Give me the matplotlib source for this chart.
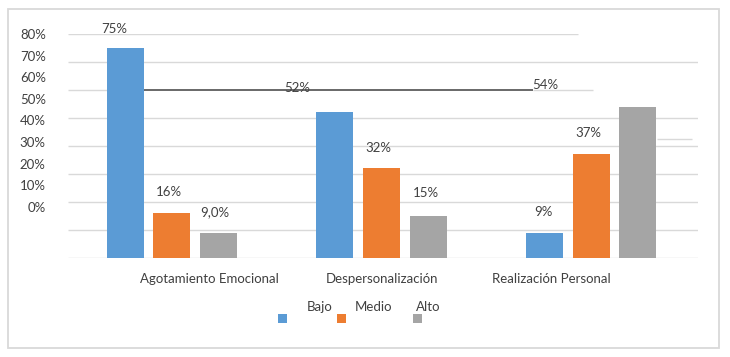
import matplotlib
matplotlib.use("Agg")
import matplotlib.pyplot as plt
from matplotlib.patches import Rectangle
import numpy as np

# ---- data ----
categories = ["Agotamiento Emocional", "Despersonalización", "Realización Personal"]
series = ["Bajo", "Medio", "Alto"]
bajo = [75, 52, 9]
medio = [16, 32, 37]
alto = [9, 15, 54]
value_labels = [["75%", "52%", "9%"], ["16%", "32%", "37%"], ["9,0%", "15%", "54%"]]
ytick_labels = ["80%", "70%", "60%", "50%", "40%", "30%", "20%", "10%", "0%"]

# ---- layout / style ----
colors = ["#5B9BD5", "#ED7D31", "#A5A5A5"]
text_color = "#404040"
grid_color = "#D9D9D9"
font = ["Lato", "DejaVu Sans"]
plt.rcParams["font.family"] = font

W, H = 730, 357
fig = plt.figure(figsize=(W / 100, H / 100), dpi=100)
ax_l, ax_r, ax_t, ax_b = 68, 698, 34, 258
ax = fig.add_axes([ax_l / W, (H - ax_b) / H, (ax_r - ax_l) / W, (ax_b - ax_t) / H])
ax.set_ylim(0, 80)
ax.set_xlim(-0.4964, 2.5107)
for s in ax.spines.values():
    s.set_visible(False)
ax.set_xticks([])
ax.tick_params(axis="y", length=0, pad=16, labelsize=9.5, labelcolor=text_color)
# misplaced value axis labels as in the reference
ax.set_yticks([80 - i * 7.72 for i in range(len(ytick_labels))])
ax.set_yticklabels(ytick_labels)

# gridlines
x0, x1 = ax.get_xlim()
for v in range(0, 90, 10):
    if v == 80:
        ax.hlines(v, x0, 1.938, color=grid_color, lw=1, zorder=1)
    elif v == 60:
        ax.hlines(v, x0, -0.134, color=grid_color, lw=1, zorder=1)
        ax.hlines(v, 1.723, 2.010, color=grid_color, lw=1, zorder=1)
    else:
        ax.hlines(v, x0, x1, color=grid_color, lw=1, zorder=1)
ax.hlines(42.5, 2.315, 2.482, color=grid_color, lw=1, zorder=1)
ax.hlines(60.15, -0.134, 1.723, color="#404040", lw=1.1, zorder=2)

# bars
x = np.arange(len(categories))
width = 0.1766
off = 0.222
for i, (vals, c) in enumerate(zip([bajo, medio, alto], colors)):
    ax.bar(x + (i - 1) * off, vals, width, color=c, zorder=3)

# data labels (placed as in the reference)
label_pos = [
    [(-0.277, 81.8), (0.597, 60.7), (1.771, 16.4)],
    [(-0.014, 23.6), (0.983, 39.3), (1.986, 44.6)],
    [(0.205, 16.4), (1.212, 23.2), (1.780, 61.8)],
]
for i in range(3):
    for j in range(3):
        px, py = label_pos[i][j]
        ax.text(px, py, value_labels[i][j], ha="center", va="center",
                fontsize=9.5, color=text_color, zorder=4, clip_on=False)

# category labels
cat_pos = [0.181, 1.0, 1.809]
for cx, name in zip(cat_pos, categories):
    ax.text(cx, -7.5, name, ha="center", va="center", fontsize=9.5,
            color=text_color, clip_on=False)

# legend (manual, as in reference)
marker_x = [282, 341, 417]
text_x = [320, 374, 428]
for mx, tx, name, c in zip(marker_x, text_x, series, colors):
    fig.add_artist(Rectangle(((mx - 4.5) / W, (H - 318 - 4.5) / H), 9 / W, 9 / H,
                             transform=fig.transFigure, facecolor=c, edgecolor="none"))
    fig.text(tx / W, (H - 307) / H, name, ha="center", va="center",
             fontsize=9.5, color=text_color)

# chart frame
fig.add_artist(Rectangle((8 / W, (H - 348) / H), (719 - 8) / W, (348 - 9) / H,
                         transform=fig.transFigure, facecolor="none",
                         edgecolor=grid_color, lw=1.3))

fig.savefig("out.png", dpi=100, facecolor="white")
